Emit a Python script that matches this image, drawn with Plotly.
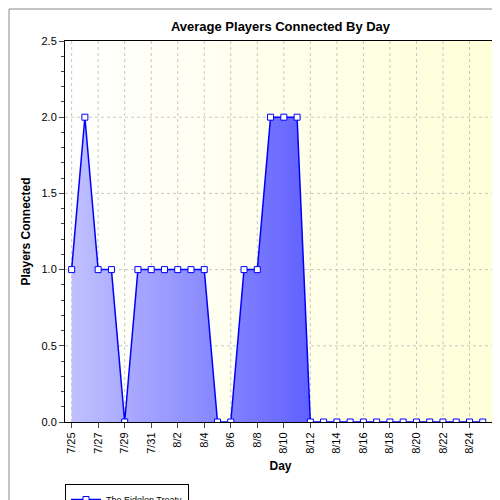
import plotly.graph_objects as go
import pandas as pd

dates = pd.date_range("2011-07-25", "2011-08-25").tolist()
players = [1, 2, 1, 1, 0, 1, 1, 1, 1, 1, 1, 0, 0, 1, 1, 2, 2, 2,
           0, 0, 0, 0, 0, 0, 0, 0, 0, 0, 0, 0, 0, 0]
tick_dates = pd.date_range("2011-07-25", "2011-08-24", freq="2D").tolist()
tick_labels = [f"{d.month}/{d.day}" for d in tick_dates]
y_ticks = [0.5, 1.0, 1.5, 2.0]
x_range = [pd.Timestamp("2011-07-24 12:00"), pd.Timestamp("2011-08-26")]
y_range = [0, 2.5]

fig = go.Figure()
# background gradient
fig.add_trace(go.Scatter(
    x=[x_range[0], x_range[1], x_range[1], x_range[0], x_range[0]],
    y=[y_range[0], y_range[0], y_range[1], y_range[1], y_range[0]],
    mode="none", fill="toself", showlegend=False, hoverinfo="skip",
    fillgradient=dict(type="horizontal",
                      colorscale=[[0, "#ffffff"], [1, "#ffffd8"]])))
# dotted grid drawn over the background, under the data
gx, gy = [], []
for d in tick_dates:
    gx += [d, d, None]; gy += [y_range[0], y_range[1], None]
for v in y_ticks:
    gx += [x_range[0], x_range[1], None]; gy += [v, v, None]
fig.add_trace(go.Scatter(x=gx, y=gy, mode="lines", showlegend=False,
                         hoverinfo="skip",
                         line=dict(color="#c8c8c0", width=1, dash="dot")))
fig.add_trace(go.Scatter(
    x=dates, y=players, mode="lines+markers", name="The Eidolon Treaty",
    fill="tozeroy",
    fillgradient=dict(type="horizontal",
                      colorscale=[[0, "#c0c0ff"], [1, "#1c1cff"]]),
    line=dict(color="#0000ff", width=1.5),
    marker=dict(symbol="square", size=6, color="white",
                line=dict(color="#0000ff", width=1))))

L, T, W, H = 57, 33, 431, 381
fig.update_layout(
    width=500, height=500,
    margin=dict(l=L, r=500 - L - W, t=T, b=500 - T - H, autoexpand=False),
    paper_bgcolor="white", plot_bgcolor="white",
    font=dict(family="Liberation Sans, Arial", size=11, color="black"),
    title=dict(text="<b>Average Players Connected By Day</b>", x=0.5,
               xref="paper", y=1 - 18 / 500, yanchor="middle",
               xanchor="center", font=dict(size=13)),
    showlegend=True,
    legend=dict(x=0.0, y=(T + H - 476) / H, xref="paper", yref="paper",
                xanchor="left", yanchor="top",
                bordercolor="black", borderwidth=1, bgcolor="white",
                font=dict(size=9), itemwidth=30,
                tracegroupgap=0),
    shapes=[dict(type="rect", xref="paper", yref="paper",
                 x0=(1 - L) / W, x1=(499 - L) / W,
                 y0=(T + H - 499) / H, y1=(T + H - 1) / H,
                 line=dict(color="#888", width=1))],
)
fig.update_xaxes(range=x_range, tickvals=tick_dates, ticktext=tick_labels,
                 tickangle=-90, showgrid=False, automargin=False,
                 showline=True, linecolor="black",
                 mirror=True, ticks="outside", zeroline=False,
                 title=dict(text="<b>Day</b>", font=dict(size=12), standoff=8))
fig.update_yaxes(range=y_range, dtick=0.5, tickformat=".1f",
                 showgrid=False, automargin=False,
                 showline=True, linecolor="black", mirror=True,
                 ticks="outside", zeroline=False,
                 minor=dict(dtick=0.1, ticks="outside", ticklen=3,
                            showgrid=False),
                 title=dict(text="<b>Players Connected</b>", font=dict(size=12),
                            standoff=8))

fig.write_html("out.html")
